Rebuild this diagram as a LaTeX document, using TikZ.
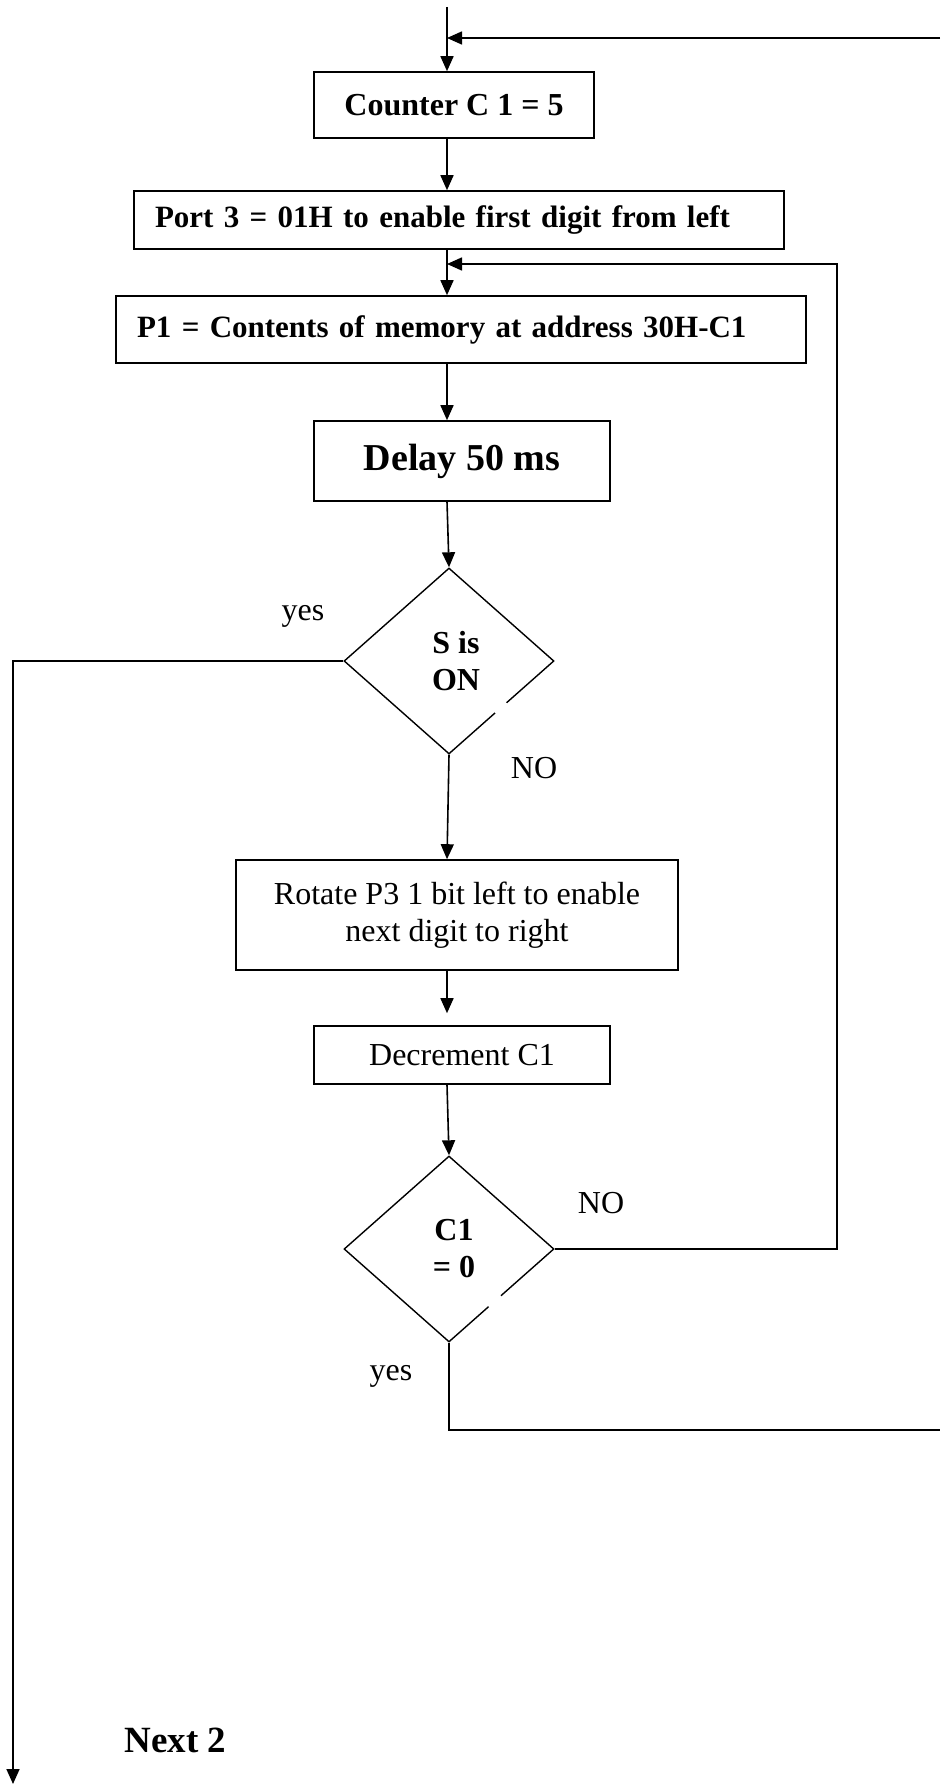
\documentclass[tikz,border=0pt]{standalone}
\usepackage{fontspec}
\setmainfont{Liberation Serif}
\usetikzlibrary{arrows.meta,shapes.geometric}
\begin{document}
\begin{tikzpicture}[x=1pt,y=-1pt,
  every node/.style={font=\fontsize{32}{37}\selectfont},
  bold/.style={font=\bfseries\fontsize{32}{37}\selectfont},
  widebold/.style={font=\bfseries\fontsize{31}{36}\selectfont},
  box/.style={draw, line width=1.6pt, inner sep=0pt, align=center},
  decision/.style={draw, diamond, line width=1.4pt, inner sep=0pt,
    minimum width=210pt, minimum height=186pt, align=center, bold},
  arr/.style={-{Triangle[length=15pt,width=13pt]}, line width=1.6pt},
  link/.style={line width=1.6pt},
  tag/.style={inner sep=0pt}]
\useasboundingbox (0,0) rectangle (940,1784);

% process boxes
\node[box, bold, minimum width=280pt, minimum height=66pt] (counter) at (454,105) {Counter C 1 = 5};
\node[box, widebold, inner xsep=21pt, text width=608pt, minimum height=58pt, align=left] (port) at (459,220)
  {Port 3 = 01H to enable first digit from left};
\node[box, widebold, inner xsep=21pt, text width=648pt, minimum height=67pt, align=left] (p1) at (461,329.5)
  {P1 = Contents of memory at address 30H-C1};
\node[box, font=\bfseries\fontsize{38}{44}\selectfont, minimum width=296pt, minimum height=80pt] (delay) at (462,461) {Delay 50 ms};
\node[decision] (s) at (449,661) {\hspace*{14pt}S is\\\hspace*{14pt}ON};
\node[box, minimum width=442pt, minimum height=110pt] (rotate) at (457,915)
  {Rotate P3 1 bit left to enable\\next digit to right};
\node[box, minimum width=296pt, minimum height=58pt] (dec) at (462,1055) {Decrement C1};
\node[decision] (c1) at (449,1249) {\hspace*{10pt}C1\\\hspace*{10pt}= 0};

% small breaks in the diamond outlines
\draw[white, line width=4pt] (506.6,703) -- (495.3,713);
\draw[white, line width=4pt] (501,1296) -- (489,1307);

% branch labels
\node[tag] (yes1) at (303,616) {yes};
\node[tag] (no1) at (534,768) {NO};
\node[tag] (no2) at (601,1203) {NO};
\node[tag] (yes2) at (391,1376) {yes};
\node[tag, font=\bfseries\fontsize{37}{44}\selectfont] (next) at (175.5,1740) {Next 2};

% connectors
\coordinate (spine) at (447,0);
\coordinate (start) at (447,7);
\coordinate (entry) at (940,38);
\coordinate (loop) at (837,264);
\coordinate (down) at (13,1784);
\coordinate (exit) at (940,1430);

\draw[arr] (start) -- (counter.north -| spine);
\draw[arr] (entry) -- (entry -| spine);
\draw[arr] (counter.south -| spine) -- (port.north -| spine);
\draw[arr] (port.south -| spine) -- (p1.north -| spine);
\draw[arr] (c1.east) -| (loop) -- (loop -| spine);
\draw[arr] (p1.south -| spine) -- (delay.north -| spine);
\draw[arr] (delay.south -| spine) -- (s.north);
\draw[arr] (s.south) -- (rotate.north -| spine);
\draw[arr, shorten >=12pt] (rotate.south -| spine) -- (dec.north -| spine);
\draw[arr] (dec.south -| spine) -- (c1.north);
\draw[arr] (s.west) -| (down);
\draw[link] (c1.south) |- (exit);
\end{tikzpicture}
\end{document}
